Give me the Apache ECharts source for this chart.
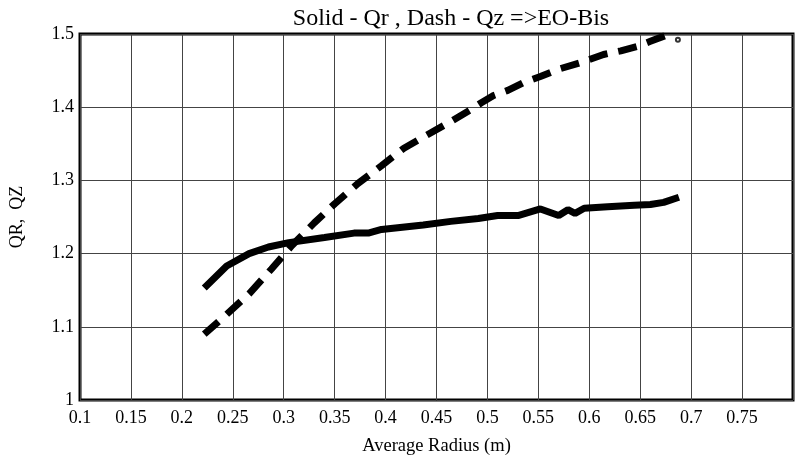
<!DOCTYPE html>
<html lang="en">

<head>
    <meta charset="UTF-8">
    <title>Solid - Qr , Dash - Qz =>EO-Bis</title>
    <script src="https://cdn.jsdelivr.net/npm/echarts@6/dist/echarts.min.js"></script>
    <style>
        html, body { margin: 0; padding: 0; background: #fff; }
        #chart { width: 799px; height: 461px; }
    </style>
</head>

<body>
    <div id="chart"></div>
    <script>
        // Qr (solid line)
        var qrRadius = [0.222, 0.244, 0.266, 0.285, 0.305, 0.340, 0.369, 0.383, 0.396, 0.437, 0.464, 0.491,
            0.510, 0.530, 0.552, 0.570, 0.579, 0.586, 0.595, 0.618, 0.644, 0.660, 0.673, 0.688];
        var qrValues = [1.153, 1.183, 1.200, 1.209, 1.215, 1.222, 1.228, 1.228, 1.233, 1.239, 1.244, 1.248,
            1.252, 1.252, 1.261, 1.252, 1.260, 1.255, 1.262, 1.264, 1.266, 1.267, 1.270, 1.277];
        // Qz (dashed line)
        var qzRadius = [0.222, 0.244, 0.266, 0.288, 0.308, 0.330, 0.350, 0.373, 0.396, 0.418, 0.438, 0.461,
            0.484, 0.494, 0.506, 0.520, 0.536, 0.552, 0.570, 0.594, 0.614, 0.631, 0.647, 0.660, 0.675];
        var qzValues = [1.090, 1.117, 1.145, 1.179, 1.211, 1.242, 1.268, 1.296, 1.320, 1.344, 1.360, 1.378,
            1.397, 1.406, 1.416, 1.423, 1.434, 1.442, 1.452, 1.462, 1.472, 1.477, 1.483, 1.490, 1.498];
        // little circle at the end of the dash line
        var endMark = [[0.687, 1.492]];

        function zip(xs, ys) {
            return xs.map(function (x, i) { return [x, ys[i]]; });
        }

        var font = 'Liberation Serif';
        var myChart = echarts.init(document.getElementById('chart'));
        var option = {
            animation: false,
            title: {
                text: 'Solid - Qr , Dash - Qz =>EO-Bis',
                left: 446,
                top: 2,
                textAlign: 'center',
                textStyle: { fontFamily: font, fontSize: 24, fontWeight: 'normal', color: '#000' }
            },
            grid: {
                left: 78, right: 6, top: 34, bottom: 61,
                show: true,
                borderColor: '#000',
                borderWidth: 3
            },
            xAxis: {
                type: 'value',
                min: 0.1, max: 0.8, interval: 0.05,
                name: 'Average Radius (m)',
                nameLocation: 'middle',
                nameGap: 37,
                nameTextStyle: { fontFamily: font, fontSize: 18.5, color: '#000' },
                axisLine: { show: false },
                axisTick: { show: false },
                axisLabel: {
                    fontFamily: font, fontSize: 18, color: '#000', margin: 9,
                    formatter: function (v) {
                        var r = Math.round(v * 100) / 100;
                        return r >= 0.8 ? '' : String(r);
                    }
                },
                splitLine: { lineStyle: { color: '#444', width: 1 } }
            },
            yAxis: {
                type: 'value',
                min: 1, max: 1.5, interval: 0.1,
                name: 'QR,  QZ',
                nameLocation: 'middle',
                nameGap: 54,
                nameTextStyle: { fontFamily: font, fontSize: 18, color: '#000' },
                axisLine: { show: false },
                axisTick: { show: false },
                axisLabel: {
                    fontFamily: font, fontSize: 18, color: '#000', margin: 6,
                    formatter: function (v) { return String(Math.round(v * 10) / 10); }
                },
                splitLine: { lineStyle: { color: '#444', width: 1 } }
            },
            series: [
                {
                    name: 'Qr',
                    type: 'line',
                    data: zip(qrRadius, qrValues),
                    showSymbol: false,
                    lineStyle: { color: '#000', width: 7 }
                },
                {
                    name: 'Qz',
                    type: 'line',
                    data: zip(qzRadius, qzValues),
                    showSymbol: false,
                    lineStyle: { color: '#000', width: 7, type: [19, 11] }
                },
                {
                    type: 'scatter',
                    data: endMark,
                    symbol: 'emptyCircle',
                    symbolSize: 4,
                    itemStyle: { color: '#000', borderWidth: 1 }
                }
            ]
        };
        myChart.setOption(option);
    </script>
</body>

</html>
